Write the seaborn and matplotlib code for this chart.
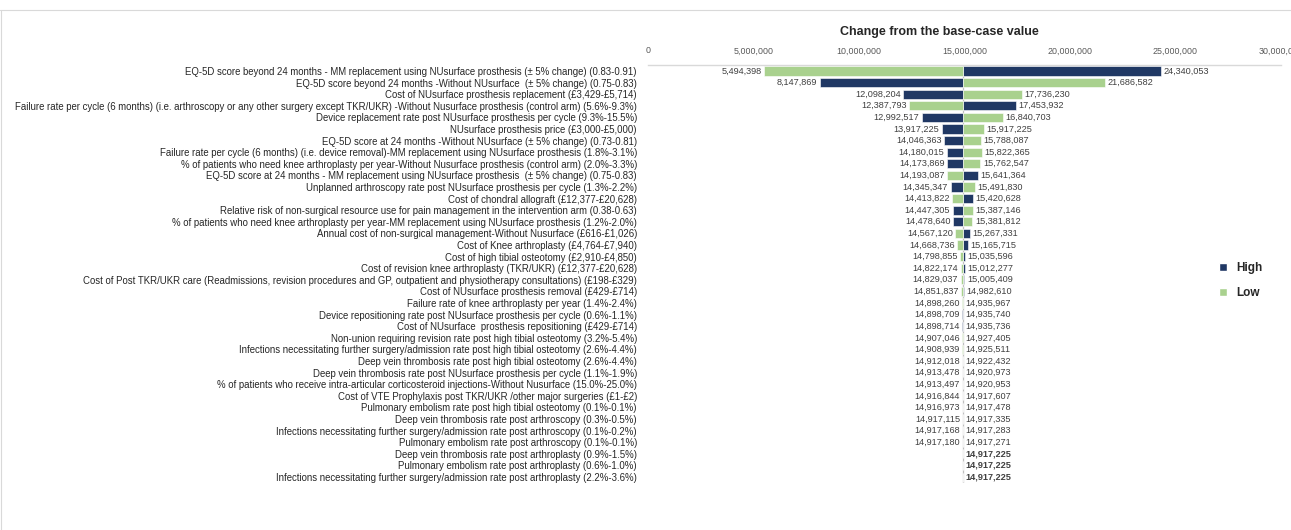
import numpy as np
import pandas as pd
import matplotlib
matplotlib.use("Agg")
import matplotlib.pyplot as plt
import seaborn as sns
from matplotlib.ticker import FuncFormatter
from matplotlib.patches import Patch

base_value = 14917225

parameters = [
    "EQ-5D score beyond 24 months - MM replacement using NUsurface prosthesis (\u00b1 5% change) (0.83-0.91)",
    "EQ-5D score beyond 24 months -Without NUsurface  (\u00b1 5% change) (0.75-0.83)",
    "Cost of NUsurface prosthesis replacement (\u00a33,429-\u00a35,714)",
    "Failure rate per cycle (6 months) (i.e. arthroscopy or any other surgery except TKR/UKR) -Without Nusurface prosthesis (control arm) (5.6%-9.3%)",
    "Device replacement rate post NUsurface prosthesis per cycle (9.3%-15.5%)",
    "NUsurface prosthesis price (\u00a33,000-\u00a35,000)",
    "EQ-5D score at 24 months -Without NUsurface (\u00b1 5% change) (0.73-0.81)",
    "Failure rate per cycle (6 months) (i.e. device removal)-MM replacement using NUsurface prosthesis (1.8%-3.1%)",
    "% of patients who need knee arthroplasty per year-Without Nusurface prosthesis (control arm) (2.0%-3.3%)",
    "EQ-5D score at 24 months - MM replacement using NUsurface prosthesis  (\u00b1 5% change) (0.75-0.83)",
    "Unplanned arthroscopy rate post NUsurface prosthesis per cycle (1.3%-2.2%)",
    "Cost of chondral allograft (\u00a312,377-\u00a320,628)",
    "Relative risk of non-surgical resource use for pain management in the intervention arm (0.38-0.63)",
    "% of patients who need knee arthroplasty per year-MM replacement using NUsurface prosthesis (1.2%-2.0%)",
    "Annual cost of non-surgical management-Without Nusurface (\u00a3616-\u00a31,026)",
    "Cost of Knee arthroplasty (\u00a34,764-\u00a37,940)",
    "Cost of high tibial osteotomy (\u00a32,910-\u00a34,850)",
    "Cost of revision knee arthroplasty (TKR/UKR) (\u00a312,377-\u00a320,628)",
    "Cost of Post TKR/UKR care (Readmissions, revision procedures and GP, outpatient and physiotherapy consultations) (\u00a3198-\u00a3329)",
    "Cost of NUsurface prosthesis removal (\u00a3429-\u00a3714)",
    "Failure rate of knee arthroplasty per year (1.4%-2.4%)",
    "Device repositioning rate post NUsurface prosthesis per cycle (0.6%-1.1%)",
    "Cost of NUsurface  prosthesis repositioning (\u00a3429-\u00a3714)",
    "Non-union requiring revision rate post high tibial osteotomy (3.2%-5.4%)",
    "Infections necessitating further surgery/admission rate post high tibial osteotomy (2.6%-4.4%)",
    "Deep vein thrombosis rate post high tibial osteotomy (2.6%-4.4%)",
    "Deep vein thrombosis rate post NUsurface prosthesis per cycle (1.1%-1.9%)",
    "% of patients who receive intra-articular corticosteroid injections-Without Nusurface (15.0%-25.0%)",
    "Cost of VTE Prophylaxis post TKR/UKR /other major surgeries (\u00a31-\u00a32)",
    "Pulmonary embolism rate post high tibial osteotomy (0.1%-0.1%)",
    "Deep vein thrombosis rate post arthroscopy (0.3%-0.5%)",
    "Infections necessitating further surgery/admission rate post arthroscopy (0.1%-0.2%)",
    "Pulmonary embolism rate post arthroscopy (0.1%-0.1%)",
    "Deep vein thrombosis rate post arthroplasty (0.9%-1.5%)",
    "Pulmonary embolism rate post arthroplasty (0.6%-1.0%)",
    "Infections necessitating further surgery/admission rate post arthroplasty (2.2%-3.6%)",
]

# model result when parameter set to its high / low value
high_values = [24340053, 8147869, 12098204, 17453932, 12992517, 13917225, 14046363,
               14180015, 14173869, 15641364, 14345347, 15420628, 14447305, 14478640,
               15267331, 15165715, 15035596, 15012277, 15005409, 14982610, 14935967,
               14898709, 14898714, 14927405, 14925511, 14922432, 14913478, 14920953,
               14917607, 14917478, 14917335, 14917283, 14917271, 14917225, 14917225,
               14917225]
low_values = [5494398, 21686582, 17736230, 12387793, 16840703, 15917225, 15788087,
              15822365, 15762547, 14193087, 15491830, 14413822, 15387146, 15381812,
              14567120, 14668736, 14798855, 14822174, 14829037, 14851837, 14898260,
              14935740, 14935736, 14907046, 14908939, 14912018, 14920973, 14913497,
              14916844, 14916973, 14917115, 14917168, 14917180, 14917225, 14917225,
              14917225]

df = pd.DataFrame({"parameter": parameters, "High": high_values, "Low": low_values})

sns.set_theme(style="white")
plt.rcParams["font.family"] = ["Liberation Sans", "DejaVu Sans"]

navy = "#203864"
green = "#A9D18E"
txt = "#404040"

fig = plt.figure(figsize=(12.91, 5.30), dpi=100)
ax = fig.add_axes([0.502, 0.089, 0.490, 0.788])

y = np.arange(len(df))
for col, color in [("High", navy), ("Low", green)]:
    ax.barh(y, df[col] - base_value, left=base_value, height=0.78,
            color=color, edgecolor="white", linewidth=0.4)

# value labels
for i, row in df.iterrows():
    lo = min(row["High"], row["Low"])
    hi = max(row["High"], row["Low"])
    same = row["High"] == row["Low"]
    gap = 120000
    if not same:
        ax.text(lo - gap, i, f"{lo:,}", ha="right", va="center", fontsize=6.6, color=txt)
        ax.text(hi + gap, i, f"{hi:,}", ha="left", va="center", fontsize=6.6, color=txt)
    else:
        ax.text(hi + gap, i, f"{hi:,}", ha="left", va="center", fontsize=6.6,
                color=txt, fontweight="bold")

ax.axvline(base_value, color="#bfbfbf", lw=0.9, zorder=0)

ax.set_xlim(0, 30000000)
ax.set_ylim(len(df) - 0.5, -0.5)
ax.set_xticks(np.arange(0, 30000001, 5000000))
ax.xaxis.set_major_formatter(FuncFormatter(lambda v, p: f"{int(v):,}"))
ax.xaxis.tick_top()
ax.tick_params(axis="x", labelsize=6.4, colors="#595959", length=0, pad=7)
ax.set_yticks(y)
ax.set_yticklabels(df["parameter"], fontsize=6.95, color="#262626")
ax.tick_params(axis="y", length=0, pad=8)
for s in ["left", "right", "bottom"]:
    ax.spines[s].set_visible(False)
ax.spines["top"].set_color("#d9d9d9")
ax.spines["top"].set_linewidth(1.0)
ax.grid(False)

fig.text(0.728, 0.94, "Change from the base-case value", ha="center", va="center",
         fontsize=9, fontweight="bold", color="#262626")

handles = [Patch(facecolor=navy, label="High"), Patch(facecolor=green, label="Low")]
fig.legend(handles=handles, loc="center left", bbox_to_anchor=(0.936, 0.470),
           frameon=False, prop={"weight": "bold", "size": 8.5},
           handlelength=0.7, handleheight=0.7, labelspacing=1.1, handletextpad=0.8)

# light frame around the chart area
fig.add_artist(plt.Line2D([0, 1], [0.981, 0.981], color="#d9d9d9", lw=0.8))
fig.add_artist(plt.Line2D([0.0008, 0.0008], [0, 0.981], color="#d9d9d9", lw=0.8))

fig.savefig("out.png", dpi=100)
